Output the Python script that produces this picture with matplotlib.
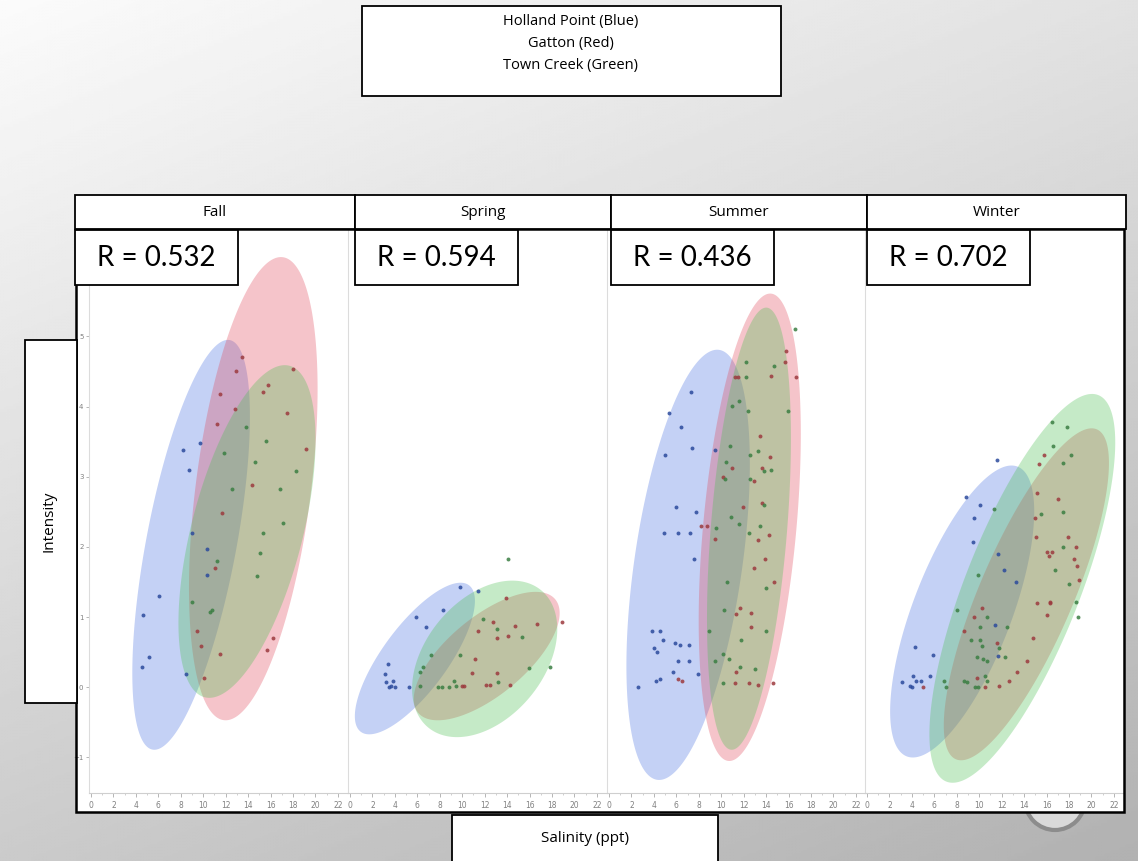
import numpy as np
import matplotlib
matplotlib.use("Agg")
import matplotlib.pyplot as plt
from matplotlib.patches import Rectangle, Circle

W, H = 1138, 861

seasons = ["Fall", "Spring", "Summer", "Winter"]
r_values = ["R = 0.532", "R = 0.594", "R = 0.436", "R = 0.702"]
legend_lines = ["Holland Point (Blue)", "Gatton (Red)", "Town Creek (Green)"]
x_label = "Salinity (ppt)"
y_label = "Intensity"
x_ticks = [0, 2, 4, 6, 8, 10, 12, 14, 16, 18, 20, 22]
y_ticks = [-1, 0, 1, 2, 3, 4, 5]

# ---------------- data (salinity, intensity) ----------------
fall_blue_x = [9.68, 8.16, 8.70, 8.97, 10.36, 10.30, 8.49, 4.57, 5.16, 4.66, 6.06]
fall_blue_y = [3.48, 3.38, 3.10, 2.20, 1.97, 1.60, 0.19, 0.29, 0.43, 1.03, 1.30]
fall_red_x = [13.42, 12.91, 11.49, 12.87, 11.19, 14.31, 17.96, 15.79, 15.29, 17.43,
              19.12, 11.64, 11.04, 9.47, 9.80, 11.49, 10.09, 16.21, 15.64]
fall_red_y = [4.71, 4.51, 4.18, 3.97, 3.75, 2.88, 4.54, 4.31, 4.21, 3.91,
              3.40, 2.48, 1.70, 0.80, 0.59, 0.47, 0.13, 0.70, 0.53]
fall_green_x = [13.80, 11.84, 12.53, 14.60, 15.61, 18.28, 16.86, 17.12, 11.19, 15.34,
                15.05, 14.75, 9.02, 10.60, 10.74]
fall_green_y = [3.71, 3.34, 2.83, 3.21, 3.51, 3.08, 2.83, 2.34, 1.80, 2.20,
                1.91, 1.58, 1.21, 1.08, 1.10]

spring_blue_x = [9.77, 8.31, 5.85, 6.80, 3.38, 3.09, 3.18, 3.83, 3.47, 3.62, 4.01, 5.25, 11.43]
spring_blue_y = [1.43, 1.10, 1.00, 0.86, 0.33, 0.19, 0.07, 0.09, 0.00, 0.02, 0.00, 0.00, 1.37]
spring_red_x = [13.86, 12.76, 11.43, 13.12, 14.10, 14.69, 16.68, 18.85,
                11.10, 10.83, 13.12, 12.14, 12.44, 14.22, 10.00, 10.15]
spring_red_y = [1.27, 0.93, 0.80, 0.70, 0.73, 0.87, 0.90, 0.93,
                0.40, 0.20, 0.20, 0.03, 0.03, 0.03, 0.02, 0.02]
spring_green_x = [14.10, 17.81, 15.94, 15.34, 13.06, 11.84, 13.20, 9.80,
                  7.24, 6.53, 6.20, 6.20, 7.87, 8.22, 8.82, 9.26, 9.47]
spring_green_y = [1.83, 0.29, 0.27, 0.71, 0.83, 0.97, 0.07, 0.46,
                  0.46, 0.29, 0.22, 0.02, 0.00, 0.00, 0.00, 0.09, 0.02]

summer_blue_x = [7.30, 5.31, 6.41, 4.96, 7.39, 9.41, 5.99, 7.78, 4.93, 6.14, 7.18, 7.54,
                 3.83, 4.57, 4.81, 4.04, 4.27, 5.85, 6.29, 7.09, 6.14, 7.12,
                 5.70, 4.19, 4.51, 2.58, 7.90]
summer_blue_y = [4.21, 3.91, 3.71, 3.31, 3.41, 3.38, 2.57, 2.50, 2.20, 2.20, 2.20, 1.83,
                 0.80, 0.80, 0.67, 0.56, 0.50, 0.63, 0.60, 0.60, 0.37, 0.37,
                 0.22, 0.09, 0.12, 0.00, 0.19]
summer_red_x = [6.11, 6.50, 8.22, 8.72, 9.47, 15.76, 15.70, 14.45, 16.62, 11.25, 11.49,
                13.47, 10.95, 13.62, 14.34, 10.15, 12.88, 13.62, 11.93, 14.28, 13.24,
                13.86, 12.91, 14.66, 11.69, 11.34, 12.67, 12.67, 11.34, 11.19, 12.49,
                13.27, 14.60]
summer_red_y = [0.12, 0.09, 2.30, 2.30, 2.11, 4.79, 4.63, 4.44, 4.42, 4.42, 4.42,
                3.58, 3.13, 3.13, 3.28, 3.00, 2.94, 2.63, 2.57, 2.17, 2.10,
                1.83, 1.70, 1.50, 1.13, 1.04, 1.06, 0.86, 0.22, 0.06, 0.06,
                0.03, 0.06]
summer_green_x = [9.56, 8.93, 9.41, 10.15, 10.27, 10.50, 16.59, 14.66, 12.23, 12.23,
                  11.60, 10.95, 12.35, 15.94, 10.80, 13.24, 12.53, 10.45, 13.83, 14.45,
                  10.30, 12.53, 13.77, 10.89, 11.60, 13.47, 12.47, 14.01, 14.01, 11.78,
                  10.66, 11.63, 13.03, 10.15]
summer_green_y = [2.27, 0.80, 0.37, 0.48, 1.10, 1.50, 5.11, 4.58, 4.64, 4.42,
                  4.08, 4.01, 3.94, 3.94, 3.44, 3.37, 3.31, 3.21, 3.08, 3.10,
                  2.97, 2.97, 2.60, 2.43, 2.33, 2.30, 2.20, 1.42, 0.80, 0.67,
                  0.40, 0.29, 0.26, 0.06]

winter_blue_x = [11.60, 8.79, 10.06, 9.56, 9.44, 11.63, 12.23, 13.24, 4.27, 5.91,
                 3.15, 3.83, 3.98, 4.12, 4.36, 4.81, 5.61, 11.40, 11.63]
winter_blue_y = [3.24, 2.71, 2.60, 2.41, 2.07, 1.90, 1.67, 1.50, 0.57, 0.46,
                 0.07, 0.02, 0.00, 0.16, 0.09, 0.09, 0.16, 0.89, 0.45]
winter_red_x = [5.01, 15.35, 15.76, 15.11, 16.98, 14.96, 15.02, 17.87, 18.61, 16.00,
                16.21, 16.51, 18.40, 18.70, 18.90, 15.17, 16.30, 16.35, 16.03, 14.75,
                14.28, 13.39, 12.64, 11.78, 10.51, 9.77, 10.21, 9.53, 8.67, 11.55]
winter_red_y = [0.00, 3.18, 3.31, 2.77, 2.68, 2.41, 2.14, 2.14, 2.00, 1.93,
                1.87, 1.93, 1.83, 1.73, 1.53, 1.20, 1.22, 1.20, 1.03, 0.70,
                0.37, 0.22, 0.09, 0.02, 0.00, 0.13, 1.13, 1.00, 0.80, 0.63]
winter_green_x = [16.50, 17.78, 16.54, 18.14, 17.48, 15.49, 17.48, 17.48, 16.74, 17.99,
                  18.58, 18.76, 11.34, 7.99, 9.91, 10.69, 10.06, 12.49, 9.23, 10.06,
                  10.21, 11.78, 9.77, 10.36, 10.66, 12.29, 10.51, 6.88, 7.00, 8.61,
                  8.87, 9.62, 9.92, 10.69]
winter_green_y = [3.78, 3.71, 3.44, 3.31, 3.20, 2.47, 2.50, 2.00, 1.67, 1.47,
                  1.21, 1.00, 2.54, 1.10, 1.60, 1.00, 0.86, 0.86, 0.67, 0.67,
                  0.59, 0.56, 0.43, 0.40, 0.37, 0.43, 0.16, 0.09, 0.00, 0.09,
                  0.07, 0.00, 0.00, 0.09]

# density ellipses: [mean x, mean y, x half-range, y half-range, correlation]
fall_ellipses = [[8.92, 2.03, 5.24, 2.92, 0.625], [14.46, 2.83, 5.73, 3.30, 0.43], [13.90, 2.22, 6.11, 2.37, 0.55]]
spring_ellipses = [[5.78, 0.41, 5.35, 1.08, 0.76], [12.18, 0.445, 6.50, 0.915, 0.67], [12.00, 0.405, 6.47, 1.115, 0.38]]
summer_ellipses = [[7.05, 1.745, 5.50, 3.065, 0.47], [12.54, 2.28, 4.55, 3.33, 0.40], [12.47, 2.26, 3.74, 3.15, 0.41]]
winter_ellipses = [[8.48, 1.08, 6.42, 2.08, 0.685], [14.20, 1.325, 7.36, 2.365, 0.79], [13.84, 1.41, 8.28, 2.77, 0.75]]

panels = [
    ([(fall_blue_x, fall_blue_y), (fall_red_x, fall_red_y), (fall_green_x, fall_green_y)], fall_ellipses),
    ([(spring_blue_x, spring_blue_y), (spring_red_x, spring_red_y), (spring_green_x, spring_green_y)], spring_ellipses),
    ([(summer_blue_x, summer_blue_y), (summer_red_x, summer_red_y), (summer_green_x, summer_green_y)], summer_ellipses),
    ([(winter_blue_x, winter_blue_y), (winter_red_x, winter_red_y), (winter_green_x, winter_green_y)], winter_ellipses),
]

fill_colors = ["#4870e1", "#e0485a", "#4cc052"]
point_colors = ["#2b4a9c", "#9c3a3e", "#3a7e42"]
fill_alpha = 0.32

FONT = ["Open Sans", "DejaVu Sans"]
RFONT = ["Lato", "DejaVu Sans"]

fig = plt.figure(figsize=(W / 100, H / 100), dpi=100)

# ---------------- background ----------------
bg = fig.add_axes([0, 0, 1, 1], zorder=0)
bg.set_xlim(0, W)
bg.set_ylim(H, 0)
bg.axis("off")
yy, xx = np.mgrid[0:H:3, 0:W:3]
shade = 0.985 - 0.10 * (xx / W) - 0.19 * (yy / H)
bg.imshow(shade, cmap="gray", vmin=0, vmax=1, extent=[0, W, H, 0], aspect="auto", zorder=0)
bg.add_patch(Circle((1055, 800), 30, facecolor="#dadada", edgecolor="#8c8c8c", lw=3, zorder=1))
bg.add_patch(Rectangle((76, 229), 1048, 583, facecolor="white", edgecolor="none", zorder=2))


def px_axes(x0, y0, x1, y1):
    return [x0 / W, 1 - y1 / H, (x1 - x0) / W, (y1 - y0) / H]


lefts = [89, 348, 607, 865]
t = np.linspace(0, 2 * np.pi, 300)
for i, (groups, ells) in enumerate(panels):
    ax = fig.add_axes(px_axes(lefts[i], 229, lefts[i] + 259, 793), zorder=2)
    ax.patch.set_alpha(0)
    ax.set_xlim(-0.18, 22.9)
    ax.set_ylim(-1.506, 6.53)
    for k, (cx, cy, hw, hh, rr) in enumerate(ells):
        ex = cx + hw * np.cos(t)
        ey = cy + hh * (rr * np.cos(t) + np.sqrt(1 - rr ** 2) * np.sin(t))
        ax.fill(ex, ey, color=fill_colors[k], alpha=fill_alpha, lw=0, zorder=1 + k)
    for k, (gx, gy) in enumerate(groups):
        ax.scatter(gx, gy, s=8, color=point_colors[k], alpha=0.85, lw=0, zorder=10)
    for s in ["top", "right"]:
        ax.spines[s].set_visible(False)
    ax.spines["bottom"].set_color("#cfcfcf")
    ax.spines["bottom"].set_linewidth(0.8)
    ax.spines["left"].set_color("#dcdcdc")
    ax.spines["left"].set_linewidth(0.8)
    ax.set_xticks(x_ticks)
    ax.set_xticks(range(0, 23), minor=True)
    ax.tick_params(axis="x", which="major", length=3, width=0.6, color="#aaaaaa",
                   labelsize=5.5, labelcolor="#808080", pad=2.5)
    ax.tick_params(axis="x", which="minor", length=1.5, width=0.5, color="#bbbbbb")
    if i == 0:
        ax.set_yticks(y_ticks)
        ax.tick_params(axis="y", length=2.5, width=0.6, color="#aaaaaa",
                       labelsize=5, labelcolor="#808080", pad=1.5)
    else:
        ax.set_yticks([])

# ---------------- overlay boxes and text ----------------
ov = fig.add_axes([0, 0, 1, 1], zorder=5)
ov.set_xlim(0, W)
ov.set_ylim(H, 0)
ov.axis("off")
ov.patch.set_alpha(0)


def box(x0, y0, x1, y1, lw=1.3):
    ov.add_patch(Rectangle((x0, y0), x1 - x0, y1 - y0, facecolor="white", edgecolor="black", lw=lw))


# legend box
box(362, 6, 781, 96)
for j, line in enumerate(legend_lines):
    ov.text(571, 22 + j * 22, line, ha="center", va="center", fontsize=10.5, family=FONT)

# frame of plot area
ov.add_patch(Rectangle((76, 229), 1048, 583, fill=False, edgecolor="black", lw=1.8))

# header boxes
edges = [75, 355, 611, 867, 1126]
for i, name in enumerate(seasons):
    box(edges[i], 195, edges[i + 1], 229)
    ov.text((edges[i] + edges[i + 1]) / 2, 212, name, ha="center", va="center",
            fontsize=11, family=FONT)
    box(edges[i], 230, edges[i] + 163, 285)
    ov.text(edges[i] + 81, 258, r_values[i], ha="center", va="center",
            fontsize=20, family=RFONT)

# axis label boxes
box(25, 340, 77, 703)
ov.text(49, 521, y_label, ha="center", va="center", rotation=90, fontsize=11, family=FONT)
box(452, 815, 718, 866)
ov.text(585, 838, x_label, ha="center", va="center", fontsize=11, family=FONT)

fig.savefig("out.png", dpi=100)
